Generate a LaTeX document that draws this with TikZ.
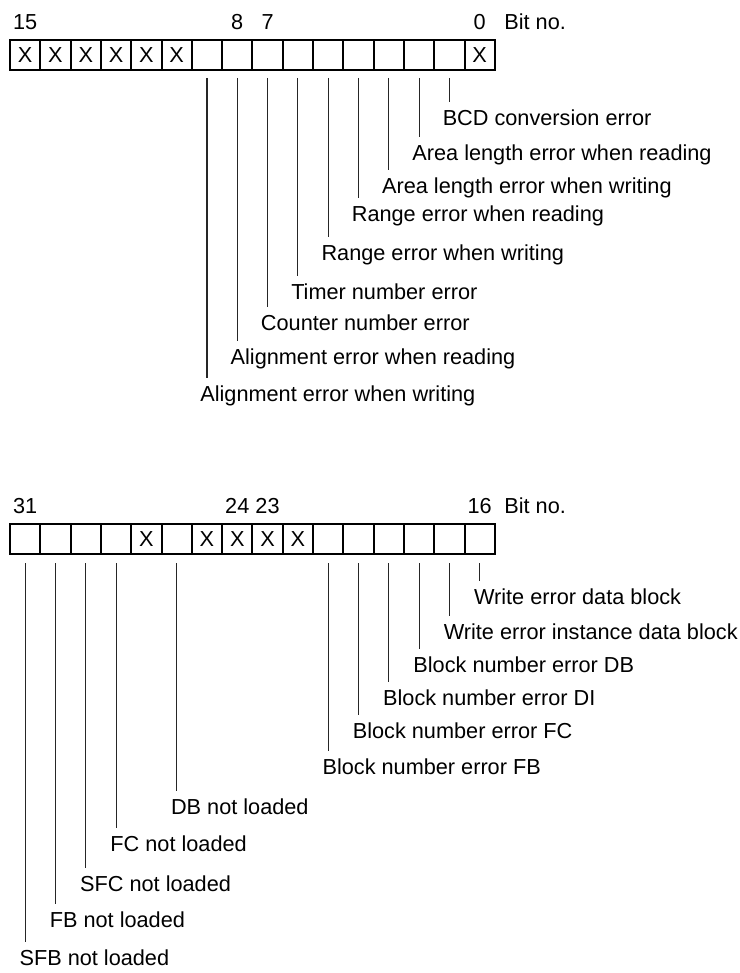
\documentclass[tikz,border=0pt]{standalone}
\usepackage{fontspec}
\setmainfont{Liberation Sans}
\usetikzlibrary{calc}
\newcommand{\fnt}{\fontsize{10.85}{13}\selectfont}
\begin{document}
\begin{tikzpicture}[x=0.5pt,y=-0.5pt,
  cell/.style={draw,line width=1pt,minimum width=15.15pt,minimum height=15pt,inner sep=0pt,font=\fnt},
  lbl/.style={anchor=base west,inner sep=0pt,font=\fnt},
  num/.style={anchor=base,inner sep=0pt,font=\fnt},
  leader/.style={line width=0.55pt,black!85}]
\useasboundingbox (0,0) rectangle (739,973);
% ---------- top register (bits 15..0) ----------
\foreach \b in {15,14,13,12,11,10,0}
  \node[cell] (t\b) at ({10+(15.5-\b)*30.3},55) {X};
\foreach \b in {9,8,7,6,5,4,3,2,1}
  \node[cell] (t\b) at ({10+(15.5-\b)*30.3},55) {};
\node[num] (n15) at ({10+0.5*30.3},30) {15};
\node[num] (n8) at ({10+7.5*30.3},30) {8};
\node[num] (n7) at ({10+8.5*30.3},30) {7};
\node[num] (n0) at ({10+15.5*30.3},30) {0};
\node[lbl] (bn1) at (504,30) {Bit no.};
% labels top
\foreach \b/\yc/\txt in {
  1/118/BCD conversion error,
  2/153/Area length error when reading,
  3/186/Area length error when writing,
  4/214/Range error when reading,
  5/253/Range error when writing,
  6/292/Timer number error,
  7/323/Counter number error,
  8/357/Alignment error when reading,
  9/394/Alignment error when writing}
{
  \node[lbl] (l\b) at ({10+(15.5-\b)*30.3-7},{\yc+7.8}) {\txt};
  \draw[leader] ($(t\b.south)+(0,7)$) -- ($(t\b.south |- l\b.north)+(0,-8)$);
}
% ---------- bottom register (bits 31..16) ----------
\foreach \b in {27,25,24,23,22}
  \node[cell] (b\b) at ({10+(31.5-\b)*30.3},539) {X};
\foreach \b in {31,30,29,28,26,21,20,19,18,17,16}
  \node[cell] (b\b) at ({10+(31.5-\b)*30.3},539) {};
\node[num] (n31) at ({10+0.5*30.3},513) {31};
\node[num] (n24) at ({10+7.5*30.3},513) {24};
\node[num] (n23) at ({10+8.5*30.3},513) {23};
\node[num] (n16) at ({10+15.5*30.3},513) {16};
\node[lbl] (bn2) at (504,513) {Bit no.};
\foreach \b/\yc/\txt in {
  16/597/Write error data block,
  17/632/Write error instance data block,
  18/665/Block number error DB,
  19/698/Block number error DI,
  20/731/Block number error FC,
  21/767/Block number error FB,
  26/807/DB not loaded,
  28/844/FC not loaded,
  29/884/SFC not loaded,
  30/920/FB not loaded,
  31/958/SFB not loaded}
{
  \node[lbl] (m\b) at ({10+(31.5-\b)*30.3-6},{\yc+7.8}) {\txt};
  \draw[leader] ($(b\b.south)+(0,8)$) -- ($(b\b.south |- m\b.north)+(0,-8)$);
}
\end{tikzpicture}
\end{document}
